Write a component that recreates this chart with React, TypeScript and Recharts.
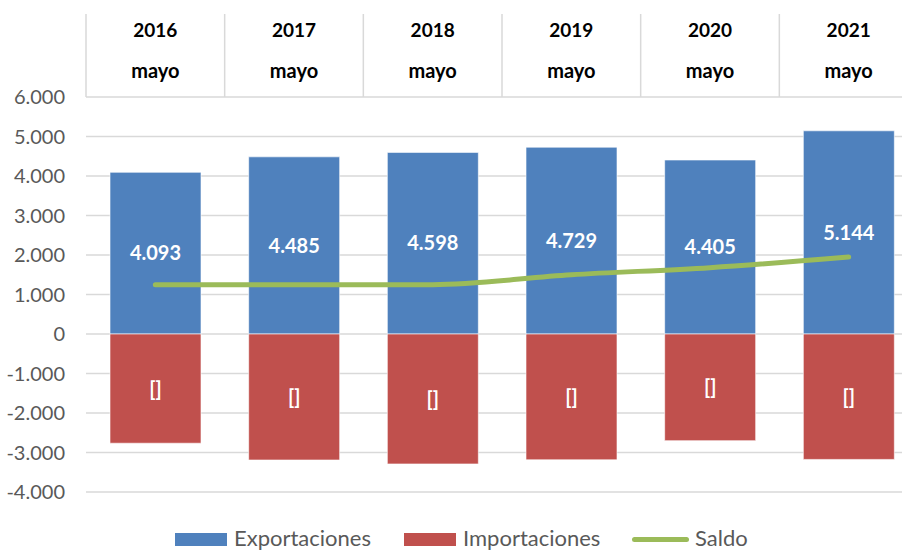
import React from "react";
import {
  ComposedChart,
  Bar,
  Line,
  XAxis,
  YAxis,
  CartesianGrid,
  LabelList,
} from "recharts";

const years = ["2016", "2017", "2018", "2019", "2020", "2021"];
const months = ["mayo", "mayo", "mayo", "mayo", "mayo", "mayo"];
const exportaciones = [4093, 4485, 4598, 4729, 4405, 5144];
const importaciones = [-2765, -3190, -3290, -3185, -2700, -3175];
const saldo = [1250, 1250, 1250, 1500, 1680, 1950];
const yTicks = [-4000, -3000, -2000, -1000, 0, 1000, 2000, 3000, 4000, 5000, 6000];

const data = years.map((y, i) => ({
  year: y,
  month: months[i],
  exportaciones: exportaciones[i],
  importaciones: importaciones[i],
  saldo: saldo[i],
}));

const FONT = "Lato, 'Noto Sans', sans-serif";
const CHART_W = 918;
const Y_AXIS_W = 86;
const BAND = (CHART_W - Y_AXIS_W) / years.length;
const HEADER_H = 83;

const fmt = (v: number) =>
  (v < 0 ? "-" : "") + String(Math.abs(v)).replace(/\B(?=(\d{3})+(?!\d))/g, ".");

function HeaderTick(props: any) {
  const { x, y, payload, index } = props;
  return (
    <g>
      <line
        x1={x - BAND / 2}
        x2={x - BAND / 2}
        y1={y - HEADER_H}
        y2={y}
        stroke="#d9d9d9"
        strokeWidth={1.5}
      />
      <text x={x} y={y - 68} textAnchor="middle" dominantBaseline="central"
        fontFamily={FONT} fontWeight="bold" fontSize={19} fill="#000">
        {payload.value}
      </text>
      <text x={x} y={y - 27} textAnchor="middle" dominantBaseline="central"
        fontFamily={FONT} fontWeight="bold" fontSize={20} fill="#000">
        {months[index]}
      </text>
    </g>
  );
}

export default function App() {
  const legendText = { position: "absolute" as const, top: 525, fontSize: 22, color: "#595959", fontFamily: FONT, lineHeight: "26px" };
  return (
    <div style={{ position: "fixed", top: 0, left: 0, width: 902, height: 552, overflow: "hidden", background: "#fff" }}>
      <ComposedChart
        width={CHART_W}
        height={502}
        data={data}
        stackOffset="sign"
        margin={{ top: 14, right: 0, left: 0, bottom: 10 }}
      >
        <CartesianGrid vertical={false} stroke="#d9d9d9" strokeWidth={1.5} />
        <XAxis
          dataKey="year"
          orientation="top"
          height={HEADER_H}
          axisLine={false}
          tickLine={false}
          tickSize={0}
          tickMargin={0}
          interval={0}
          tick={<HeaderTick />}
        />
        <YAxis
          width={Y_AXIS_W}
          domain={[-4000, 6000]}
          ticks={yTicks}
          interval={0}
          axisLine={false}
          tickLine={false}
          tickSize={0}
          tickMargin={21}
          tickFormatter={fmt}
          tick={{ fill: "#595959", fontSize: 20, fontFamily: FONT }}
        />
        <Bar dataKey="exportaciones" stackId="a" fill="#4F81BD" stroke="#ffffff" strokeOpacity={0.6} barSize={91} isAnimationActive={false}>
          <LabelList dataKey="exportaciones" position="center" formatter={(v: any) => fmt(Number(v))}
            fill="#fff" fontWeight="bold" fontSize={20} fontFamily={FONT} />
        </Bar>
        <Bar dataKey="importaciones" stackId="a" fill="#C0504D" stroke="#ffffff" strokeOpacity={0.6} barSize={91} isAnimationActive={false}>
          <LabelList dataKey="importaciones" position="center" formatter={() => "[]"}
            fill="#fff" fontWeight="bold" fontSize={20} fontFamily={FONT} />
        </Bar>
        <Line
          dataKey="saldo"
          type="monotone"
          stroke="#9BBB59"
          strokeWidth={5}
          strokeLinecap="round"
          dot={false}
          isAnimationActive={false}
        />
      </ComposedChart>
      <div style={{ position: "absolute", left: 175, top: 533, width: 52, height: 13, background: "#4F81BD" }} />
      <span style={{ ...legendText, left: 234 }}>Exportaciones</span>
      <div style={{ position: "absolute", left: 404, top: 533, width: 52, height: 13, background: "#C0504D" }} />
      <span style={{ ...legendText, left: 463 }}>Importaciones</span>
      <div style={{ position: "absolute", left: 632, top: 537, width: 57, height: 5, borderRadius: 3, background: "#9BBB59" }} />
      <span style={{ ...legendText, left: 695 }}>Saldo</span>
    </div>
  );
}
